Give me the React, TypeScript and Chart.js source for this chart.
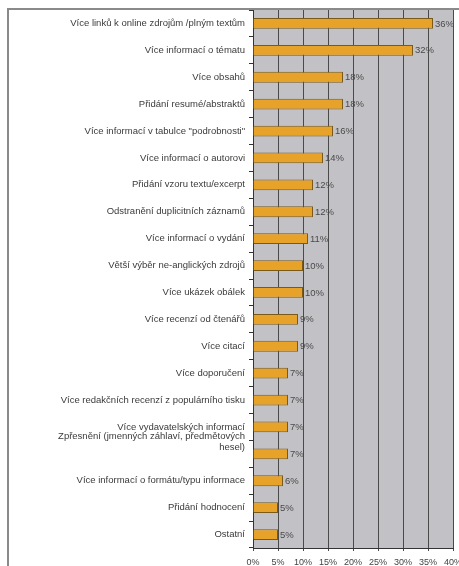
import React, { useEffect, useRef } from "react";
import { Chart, registerables } from "chart.js";

Chart.register(...registerables);

const categories: (string | string[])[] = [
  "Více linků k online zdrojům /plným textům",
  "Více informací o tématu",
  "Více obsahů",
  "Přidání resumé/abstraktů",
  "Více informací v tabulce \"podrobnosti\"",
  "Více informací o autorovi",
  "Přidání vzoru textu/excerpt",
  "Odstranění duplicitních záznamů",
  "Více informací o vydání",
  "Větší výběr ne-anglických zdrojů",
  "Více ukázek obálek",
  "Více recenzí od čtenářů",
  "Více citací",
  "Více doporučení",
  "Více redakčních recenzí z populárního tisku",
  "Více vydavatelských informací",
  ["Zpřesnění (jmenných záhlaví, předmětových", "hesel)", "", ""],
  "Více informací o formátu/typu informace",
  "Přidání hodnocení",
  "Ostatní",
];

const values: number[] = [36, 32, 18, 18, 16, 14, 12, 12, 11, 10, 10, 9, 9, 7, 7, 7, 7, 6, 5, 5];

const xTicks: number[] = [0, 5, 10, 15, 20, 25, 30, 35, 40];

const FONT = "'Liberation Sans', Arial, sans-serif";

export default function App() {
  const ref = useRef<HTMLCanvasElement | null>(null);

  useEffect(() => {
    const canvas = ref.current;
    if (!canvas) return;

    const framePlugin = {
      id: "frame",
      beforeDraw(chart: any) {
        const { ctx, chartArea, width, height } = chart;
        ctx.save();
        ctx.fillStyle = "#ffffff";
        ctx.fillRect(0, 0, width, height);
        ctx.strokeStyle = "#8a8a8a";
        ctx.lineWidth = 2;
        ctx.beginPath();
        ctx.moveTo(8, height + 5);
        ctx.lineTo(8, 9);
        ctx.lineTo(width + 5, 9);
        ctx.stroke();
        ctx.fillStyle = "#c2c2c6";
        ctx.fillRect(chartArea.left, chartArea.top, chartArea.right - chartArea.left, chartArea.bottom - chartArea.top);
        ctx.restore();
      },
    };

    const labelPlugin = {
      id: "valueLabels",
      afterDatasetsDraw(chart: any) {
        const { ctx } = chart;
        const meta = chart.getDatasetMeta(0);
        ctx.save();
        ctx.font = `9.5px ${FONT}`;
        ctx.fillStyle = "#4a4a4a";
        ctx.textAlign = "left";
        ctx.textBaseline = "middle";
        meta.data.forEach((bar: any, i: number) => {
          ctx.fillText(`${values[i]}%`, bar.x + 2, bar.y + 0.5);
        });
        ctx.restore();
      },
    };

    const chart = new Chart(canvas, {
      type: "bar",
      data: {
        labels: categories,
        datasets: [
          {
            data: values,
            backgroundColor: "#e7a22a",
            borderColor: "#7a5a1a",
            borderWidth: 1,
            barPercentage: 0.4,
            categoryPercentage: 1,
          },
        ],
      },
      options: {
        indexAxis: "y",
        animation: false,
        responsive: false,
        maintainAspectRatio: false,
        layout: { padding: { top: 10, right: 6, left: 0, bottom: 0 } },
        plugins: {
          legend: { display: false },
          tooltip: { enabled: false },
        },
        scales: {
          x: {
            min: 0,
            max: 40,
            afterBuildTicks: (scale: any) => {
              scale.ticks = xTicks.map((v) => ({ value: v }));
            },
            afterFit: (scale: any) => {
              scale.height = 18;
              scale.paddingLeft = 0;
              scale.paddingRight = 0;
            },
            ticks: {
              callback: (v: any) => `${v}%`,
              font: { size: 9, family: FONT },
              color: "#444444",
              padding: 6,
              maxRotation: 0,
              autoSkip: false,
            },
            grid: {
              color: "#4a4a4a",
              lineWidth: 1,
              tickLength: 3,
              drawOnChartArea: true,
            },
            border: { color: "#333333", width: 1 },
          },
          y: {
            afterFit: (scale: any) => {
              scale.width = 253;
              scale.paddingTop = 0;
              scale.paddingBottom = 0;
            },
            ticks: {
              font: { size: 9.5, family: FONT, lineHeight: 1.26 },
              color: "#3a3a3a",
              padding: 4,
              autoSkip: false,
            },
            grid: {
              offset: true,
              drawOnChartArea: false,
              color: "#333333",
              tickLength: 4,
            },
            border: { color: "#333333", width: 1 },
          },
        },
      },
      plugins: [framePlugin, labelPlugin],
    });

    return () => chart.destroy();
  }, []);

  return (
    <div style={{ position: "fixed", left: 0, top: 0, width: 459, height: 566, overflow: "hidden" }}>
      <canvas ref={ref} width={459} height={566} style={{ display: "block", width: 459, height: 566 }} />
    </div>
  );
}
